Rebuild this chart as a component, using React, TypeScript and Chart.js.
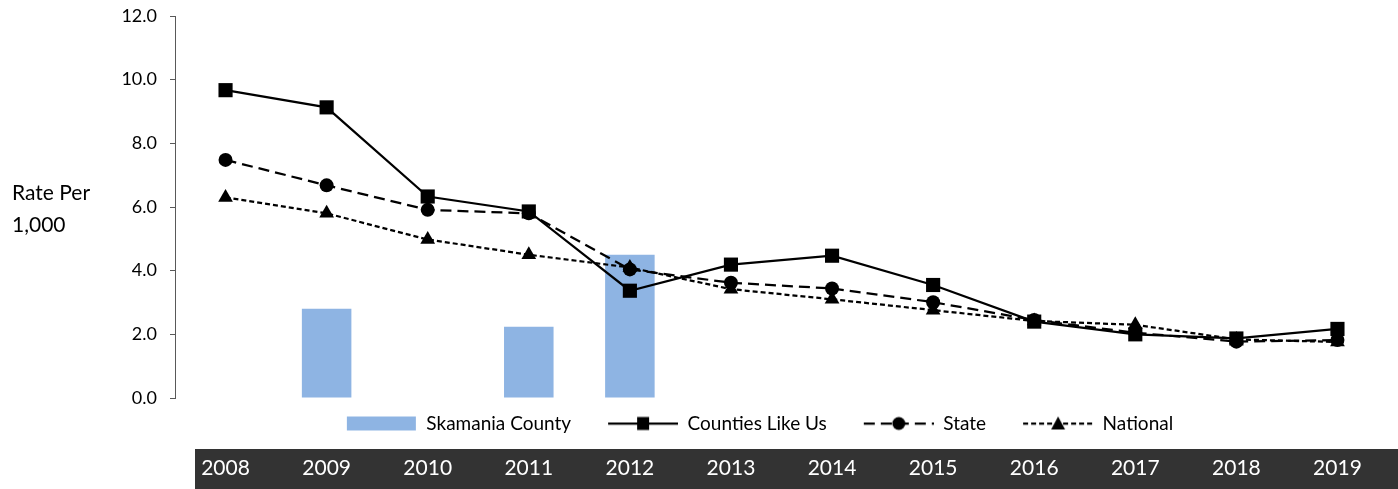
import React, { useEffect, useRef } from 'react';
import { Chart, registerables } from 'chart.js';

Chart.register(...registerables);

// ---- Data ----
const YEARS = ['2008', '2009', '2010', '2011', '2012', '2013', '2014', '2015', '2016', '2017', '2018', '2019'];
const SKAMANIA = [null, 2.8, null, 2.24, 4.5, null, null, null, null, null, null, null];
const COUNTIES = [9.67, 9.13, 6.33, 5.86, 3.37, 4.19, 4.47, 3.55, 2.4, 2.0, 1.87, 2.17];
const STATE = [7.48, 6.68, 5.91, 5.8, 4.04, 3.62, 3.44, 3.01, 2.45, 2.05, 1.77, 1.82];
const NATIONAL = [6.3, 5.8, 4.98, 4.5, 4.1, 3.42, 3.1, 2.76, 2.42, 2.3, 1.84, 1.76];
const Y_TICKS = [0, 2, 4, 6, 8, 10, 12];
const Y_TITLE = ['Rate Per', '1,000'];
const LEGEND_NAMES = ['Skamania County', 'Counties Like Us', 'State', 'National'];

// ---- Styles ----
const FONT = 'Lato, "Open Sans", sans-serif';
const BAR_COLOR = '#8EB4E3';
const BAND_COLOR = '#333333';
const AXIS_COLOR = '#595959';
const LINE_W = 2.25;
const STATE_DASH = [11, 6];
const NATIONAL_DASH = [5, 3];

type Kind = 'bar' | 'rect' | 'circle' | 'triangle';

function legendImage(kind: Kind, dash: number[]): HTMLCanvasElement {
  const margin = 21;
  const w = 70;
  const h = 20;
  const c = document.createElement('canvas');
  c.width = margin + w;
  c.height = h;
  const ctx = c.getContext('2d')!;
  if (kind === 'bar') {
    ctx.fillStyle = BAR_COLOR;
    ctx.fillRect(margin, 3, 69, 14);
    return c;
  }
  const cy = h / 2;
  const cx = margin + w / 2;
  ctx.strokeStyle = '#000';
  ctx.lineWidth = LINE_W;
  ctx.setLineDash(dash);
  ctx.beginPath();
  ctx.moveTo(margin, cy);
  ctx.lineTo(margin + w, cy);
  ctx.stroke();
  ctx.setLineDash([]);
  ctx.fillStyle = '#000';
  if (kind === 'rect') {
    ctx.fillRect(cx - 6, cy - 6.5, 12, 13);
  } else if (kind === 'circle') {
    ctx.beginPath();
    ctx.arc(cx, cy, 6.5, 0, Math.PI * 2);
    ctx.fill();
  } else {
    ctx.beginPath();
    ctx.moveTo(cx, cy - 7);
    ctx.lineTo(cx + 7, cy + 6);
    ctx.lineTo(cx - 7, cy + 6);
    ctx.closePath();
    ctx.fill();
  }
  return c;
}

const bandPlugin = {
  id: 'yearBand',
  beforeDraw(chart: any) {
    const x = chart.scales.x;
    const ctx = chart.ctx;
    ctx.save();
    ctx.fillStyle = BAND_COLOR;
    ctx.fillRect(195, x.bottom - 40, chart.width - 195, 40);
    ctx.restore();
  },
};

const yTitlePlugin = {
  id: 'yTitleText',
  afterDraw(chart: any) {
    const ctx = chart.ctx;
    ctx.save();
    ctx.font = `21px ${FONT}`;
    ctx.fillStyle = '#000';
    ctx.textBaseline = 'alphabetic';
    ctx.textAlign = 'left';
    ctx.fillText(Y_TITLE[0], 12, 200);
    ctx.fillText(Y_TITLE[1], 12, 232);
    ctx.restore();
  },
};

export default function App() {
  const ref = useRef<HTMLCanvasElement | null>(null);

  useEffect(() => {
    if (!ref.current) return;
    const images = [
      legendImage('bar', []),
      legendImage('rect', []),
      legendImage('circle', STATE_DASH),
      legendImage('triangle', NATIONAL_DASH),
    ];
    const chart = new Chart(ref.current, {
      type: 'bar',
      data: {
        labels: YEARS,
        datasets: [
          {
            type: 'bar',
            label: LEGEND_NAMES[0],
            data: SKAMANIA as any,
            backgroundColor: BAR_COLOR,
            barPercentage: 0.49,
            categoryPercentage: 1,
            order: 10,
          },
          {
            type: 'line',
            label: LEGEND_NAMES[1],
            data: COUNTIES,
            borderColor: '#000',
            borderWidth: LINE_W,
            pointStyle: 'rect',
            pointRadius: 10,
            pointBackgroundColor: '#000',
            pointBorderColor: '#000',
            pointBorderWidth: 0,
            tension: 0,
            order: 1,
          },
          {
            type: 'line',
            label: LEGEND_NAMES[2],
            data: STATE,
            borderColor: '#000',
            borderWidth: LINE_W,
            borderDash: STATE_DASH,
            pointStyle: 'circle',
            pointRadius: 7,
            pointBackgroundColor: '#000',
            pointBorderColor: '#000',
            pointBorderWidth: 0,
            tension: 0,
            order: 2,
          },
          {
            type: 'line',
            label: LEGEND_NAMES[3],
            data: NATIONAL,
            borderColor: '#000',
            borderWidth: LINE_W,
            borderDash: NATIONAL_DASH,
            pointStyle: 'triangle',
            pointRadius: 8.5,
            pointBackgroundColor: '#000',
            pointBorderColor: '#000',
            pointBorderWidth: 0,
            tension: 0,
            order: 3,
          },
        ],
      },
      options: {
        animation: false,
        responsive: true,
        maintainAspectRatio: false,
        layout: { padding: { left: 107, right: 6, top: 16, bottom: 0 } },
        plugins: {
          tooltip: { enabled: false },
          legend: {
            position: 'bottom',
            weight: 0,
            align: 'center',
            labels: {
              usePointStyle: true,
              pointStyleWidth: 91,
              padding: 16,
              color: '#000',
              font: { family: FONT, size: 19 },
              generateLabels: () =>
                LEGEND_NAMES.map((name, i) => ({
                  text: name,
                  pointStyle: images[i] as any,
                  fillStyle: '#000',
                  strokeStyle: '#000',
                  lineWidth: 0,
                  hidden: false,
                  datasetIndex: i,
                  fontColor: '#000',
                })),
            },
          } as any,
        },
        scales: {
          x: {
            type: 'category',
            position: 'bottom',
            offset: true,
            weight: 10,
            grid: { display: false, drawTicks: false },
            border: { display: false },
            ticks: {
              color: '#ffffff',
              font: { family: FONT, size: 21 },
              padding: 13,
              maxRotation: 0,
              autoSkip: false,
            },
            afterFit: (s: any) => {
              s.height = 46;
            },
          },
          y: {
            min: 0,
            max: 12,
            afterBuildTicks: (s: any) => {
              s.ticks = Y_TICKS.map((v) => ({ value: v }));
            },
            ticks: {
              color: '#000',
              font: { family: FONT, size: 18 },
              padding: 13,
              callback: (v: any) => Number(v).toFixed(1),
            },
            grid: {
              display: true,
              drawOnChartArea: false,
              drawTicks: true,
              tickLength: 5,
              color: AXIS_COLOR,
              lineWidth: 1,
            },
            border: { display: true, color: AXIS_COLOR, width: 1 },
            afterFit: (s: any) => {
              s.width = 68;
              s.paddingTop = 0;
              s.paddingBottom = 0;
            },
          },
        },
      } as any,
      plugins: [bandPlugin, yTitlePlugin],
    });
    return () => chart.destroy();
  }, []);

  return (
    <div style={{ position: 'absolute', left: 0, top: 0, width: 1398, height: 489, background: '#fff' }}>
      <canvas ref={ref} />
    </div>
  );
}
